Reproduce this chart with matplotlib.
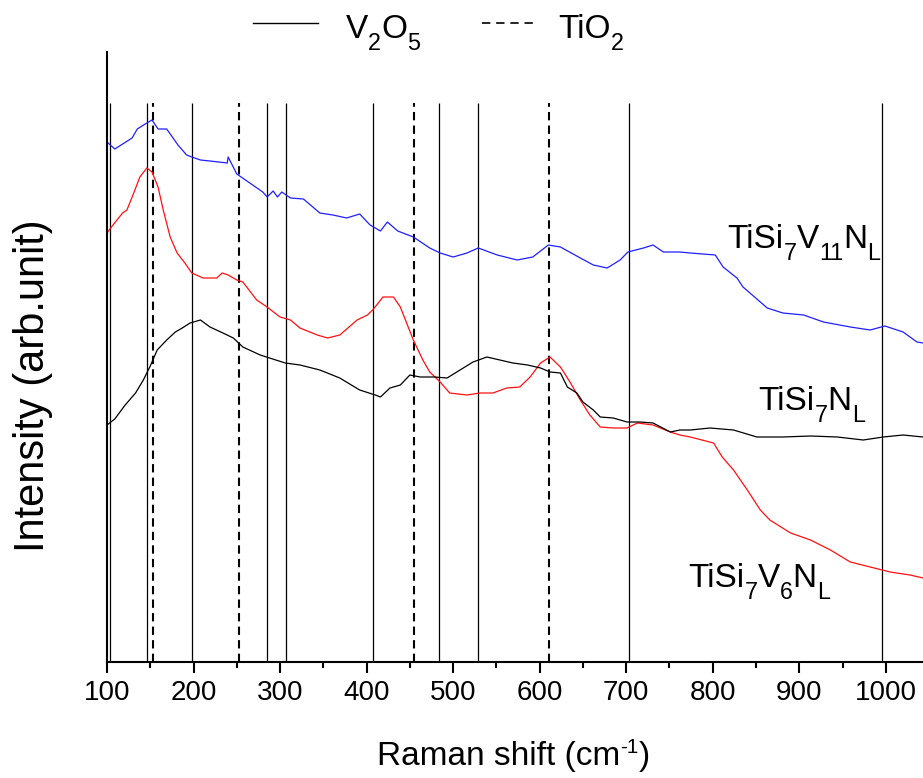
import matplotlib
matplotlib.use("Agg")
import matplotlib.pyplot as plt
from matplotlib.lines import Line2D
from matplotlib.ticker import MultipleLocator

plt.rcParams['font.family'] = ['Liberation Sans', 'DejaVu Sans']

# ---- data (Raman shift in cm^-1, intensity in arbitrary units) ----
blue_x = [100, 109, 129, 135, 146, 152, 159, 169, 182, 192, 198, 208, 219, 239, 240, 250, 265, 280,
          285, 292, 297, 302, 312, 327, 346, 361, 377, 392, 404, 416, 424, 436, 454, 473, 485, 500,
          516, 529, 551, 574, 592, 610, 624, 647, 662, 678, 693, 702, 720, 731, 743, 762, 774, 803,
          812, 828, 835, 855, 863, 881, 905, 928, 959, 982, 999, 1020, 1036, 1043]
blue_y = [520, 513, 524, 533, 539, 542, 533, 533, 517, 507, 505, 502, 501, 499, 505, 488, 479, 470,
          465, 471, 465, 470, 464, 463, 449, 447, 444, 448, 437, 431, 440, 431, 425, 414, 409, 405,
          409, 414, 407, 402, 405, 417, 415, 404, 397, 394, 402, 410, 414, 417, 410, 410, 409, 407,
          395, 384, 375, 360, 354, 349, 347, 340, 335, 332, 336, 330, 320, 319]

red_x = [100, 106, 118, 123, 130, 138, 146, 152, 159, 165, 173, 181, 190, 198, 211, 227, 233, 240,
         250, 257, 273, 285, 300, 312, 323, 343, 355, 369, 389, 401, 407, 419, 431, 439, 454, 465,
         473, 485, 496, 516, 531, 546, 562, 577, 589, 601, 612, 624, 635, 647, 658, 670, 685, 701,
         713, 731, 751, 762, 774, 801, 811, 824, 840, 855, 866, 890, 913, 936, 959, 982, 1005,
         1028, 1043]
red_y = [429, 436, 449, 452, 467, 485, 494, 490, 475, 452, 425, 409, 399, 389, 384, 384, 389, 387,
         382, 380, 362, 355, 345, 342, 334, 327, 324, 327, 342, 347, 352, 365, 365, 355, 322, 302,
         290, 280, 269, 267, 269, 269, 274, 275, 285, 299, 305, 295, 280, 262, 247, 235, 234, 234,
         239, 237, 230, 227, 225, 219, 205, 192, 172, 152, 142, 129, 122, 112, 100, 95, 90,
         87, 84]

black_x = [100, 109, 121, 133, 142, 150, 158, 169, 179, 187, 196, 208, 219, 234, 246, 257, 277, 306,
           323, 346, 369, 392, 410, 416, 427, 439, 450, 462, 479, 493, 508, 523, 539, 554, 569, 586,
           601, 612, 624, 632, 643, 650, 662, 670, 685, 701, 716, 731, 751, 762, 774, 797, 824, 851,
           881, 913, 944, 974, 997, 1020, 1043]
black_y = [237, 243, 257, 269, 282, 296, 312, 322, 330, 334, 339, 342, 335, 329, 324, 315, 307, 299,
           297, 292, 284, 272, 267, 265, 274, 277, 287, 285, 285, 284, 292, 300, 305, 302, 299, 297,
           294, 290, 289, 275, 269, 260, 252, 245, 244, 240, 240, 239, 230, 232, 232, 234, 232, 225,
           225, 226, 225, 222, 225, 227, 225]

v2o5_peaks = [104, 146, 198, 285, 307, 407, 484, 529, 703, 996]
tio2_peaks = [153, 253, 455, 611]

# label pieces: (text, kind) with kind 'n' normal, 'b' subscript, 'p' superscript
labels = [[('TiSi', 'n'), ('7', 'b'), ('V', 'n'), ('11', 'b'), ('N', 'n'), ('L', 'b')],
          [('TiSi', 'n'), ('7', 'b'), ('N', 'n'), ('L', 'b')],
          [('TiSi', 'n'), ('7', 'b'), ('V', 'n'), ('6', 'b'), ('N', 'n'), ('L', 'b')]]
label_pos = [(817, 414), (853, 252), (772, 75)]
legend_names = [[('V', 'n'), ('2', 'b'), ('O', 'n'), ('5', 'b')],
                [('TiO', 'n'), ('2', 'b')]]
xlabel_parts = [('Raman shift (cm', 'n'), ('-1', 'p'), (')', 'n')]
xticks = [100, 200, 300, 400, 500, 600, 700, 800, 900, 1000]

W, H = 923, 778
fig = plt.figure(figsize=(W / 100, H / 100), dpi=100)
ax = fig.add_axes([107 / W, 1 - 662 / H, 1 - 107 / W, (662 - 52) / H])


def rich_text(x, y, parts, fs, transform, sub_dy=-7.5, sup_dy=10.0, scale=0.7):
    first = ax.text(x, y, parts[0][0], fontsize=fs, ha='left', va='baseline',
                    transform=transform, clip_on=False)
    prev = first
    for txt, kind in parts[1:]:
        size = fs if kind == 'n' else fs * scale
        dy = 0 if kind == 'n' else (sub_dy if kind == 'b' else sup_dy)
        prev = ax.annotate(txt, xy=(1, 0), xycoords=(prev, first), xytext=(0, dy),
                           textcoords='offset points', fontsize=size, ha='left', va='bottom',
                           annotation_clip=False)
    return first


ax.vlines(v2o5_peaks, 0, 559, colors='k', linewidth=0.9)
ax.vlines(tio2_peaks, 0, 559, colors='k', linewidth=1.5, linestyles=[(0, (4, 2.5))])

ax.plot(blue_x, blue_y, color='#1f1fff', lw=0.9)
ax.plot(red_x, red_y, color='#ff1010', lw=0.9)
ax.plot(black_x, black_y, color='k', lw=0.9)

for parts, (lx, ly) in zip(labels, label_pos):
    rich_text(lx, ly, parts, 24, ax.transData)

ax.set_xlim(100, 1043)
ax.set_ylim(0, 610)
ax.set_yticks([])
ax.set_xticks(xticks)
ax.set_xticklabels([str(t) for t in xticks])
ax.xaxis.set_minor_locator(MultipleLocator(50))
ax.tick_params(axis='x', which='major', direction='out', length=8, width=1.5, labelsize=20, pad=5)
ax.tick_params(axis='x', which='minor', direction='out', length=4.5, width=1.5)
for s in ['top', 'right']:
    ax.spines[s].set_visible(False)
for s in ['left', 'bottom']:
    ax.spines[s].set_linewidth(1.5)

# axis titles
rich_text(377 / W, 1 - 765 / H, xlabel_parts, 24, fig.transFigure, sup_dy=11.0, scale=0.62)
fig.text(33 / W, 1 - 386 / H, 'Intensity (arb.unit)', fontsize=30, rotation=90,
         ha='center', va='center')

# legend (drawn manually so the subscripts match)
fig.add_artist(Line2D([253 / W, 318 / W], [1 - 23 / H, 1 - 23 / H], color='k', lw=1.0,
                      transform=fig.transFigure))
fig.add_artist(Line2D([482 / W, 535 / W], [1 - 23 / H, 1 - 23 / H], color='k', lw=1.2,
                      linestyle=(0, (5, 3.5)), transform=fig.transFigure))
rich_text(346 / W, 1 - 38 / H, legend_names[0], 24, fig.transFigure, sub_dy=-7.0)
rich_text(558 / W, 1 - 38 / H, legend_names[1], 24, fig.transFigure, sub_dy=-7.0)

fig.savefig('out.png', dpi=100)
